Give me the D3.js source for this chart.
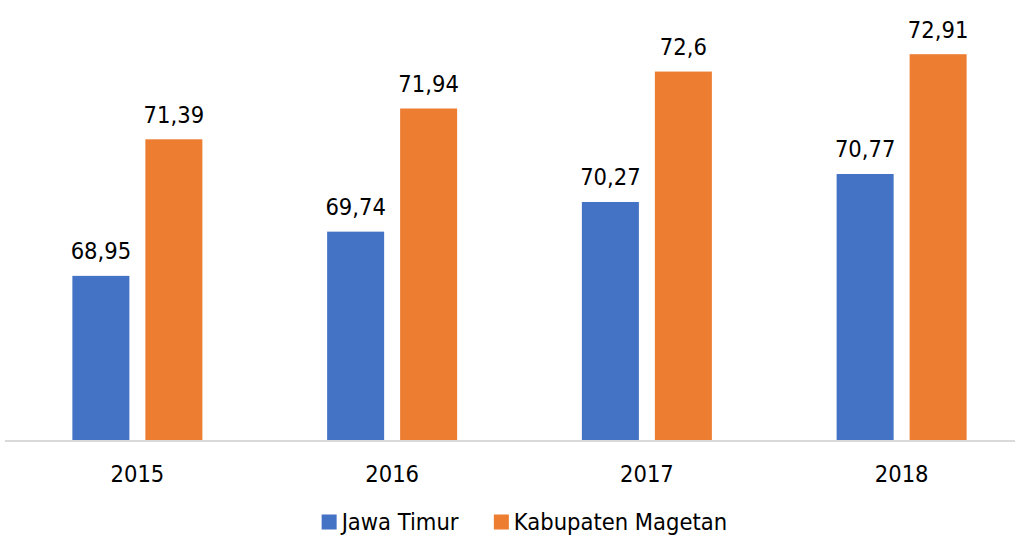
<!DOCTYPE html>
<html>
<head>
<meta charset="utf-8">
<script src="https://cdn.jsdelivr.net/npm/d3@7"></script>
<style>
  html, body { margin: 0; padding: 0; background: #fff; overflow: hidden; }
  svg { display: block; }
  text { font-family: "DejaVu Sans Condensed", "DejaVu Sans", sans-serif; font-stretch: condensed; fill: #000; }
</style>
</head>
<body>
<svg id="chart" width="1015" height="535"></svg>
<script>
const years = ["2015", "2016", "2017", "2018"];
const seriesNames = ["Jawa Timur", "Kabupaten Magetan"];
const jawaTimur = [68.95, 69.74, 70.27, 70.77];
const magetan = [71.39, 71.94, 72.6, 72.91];
const labelsJawaTimur = ["68,95", "69,74", "70,27", "70,77"];
const labelsMagetan = ["71,39", "71,94", "72,6", "72,91"];
const colors = ["#4472C4", "#ED7D31"];

const svg = d3.select("#chart");
const fontSize = 23.5;

const rows = years.map((y, i) => ({
  year: y,
  vals: [
    { key: seriesNames[0], v: jawaTimur[i], label: labelsJawaTimur[i], c: colors[0] },
    { key: seriesNames[1], v: magetan[i], label: labelsMagetan[i], c: colors[1] }
  ]
}));

const x0 = d3.scaleBand().domain(years).range([10, 1029]).padding(0);
const groupW = 130;
const x1 = d3.scaleBand().domain(seriesNames).range([0, groupW]).paddingInner(0.219).paddingOuter(0);
const y = d3.scaleLinear().domain([66, 74]).range([441, -6.8]);

const g = svg.selectAll("g.grp").data(rows).enter().append("g")
  .attr("class", "grp")
  .attr("transform", d => `translate(${x0(d.year) + (x0.bandwidth() - groupW) / 2},0)`);

g.selectAll("rect").data(d => d.vals).enter().append("rect")
  .attr("x", d => x1(d.key))
  .attr("width", x1.bandwidth())
  .attr("y", d => y(d.v))
  .attr("height", d => y(66) - y(d.v))
  .attr("fill", d => d.c);

g.selectAll("text.lbl").data(d => d.vals).enter().append("text")
  .attr("class", "lbl")
  .attr("x", d => x1(d.key) + x1.bandwidth() / 2)
  .attr("y", d => y(d.v) - 16.7)
  .attr("text-anchor", "middle")
  .style("font-size", fontSize + "px")
  .text(d => d.label);

// axis line
svg.append("line")
  .attr("x1", 5).attr("x2", 1015)
  .attr("y1", y(66)).attr("y2", y(66))
  .attr("stroke", "#D9D9D9").attr("stroke-width", 2);

// category labels
const xAxis = d3.axisBottom(x0).tickSize(0).tickPadding(0);
const ax = svg.append("g").call(xAxis);
ax.select(".domain").remove();
ax.selectAll(".tick text")
  .attr("y", 481.7).attr("dy", null)
  .attr("fill", "#000")
  .style("font-size", fontSize + "px")
  .style("font-family", '"DejaVu Sans Condensed", "DejaVu Sans", sans-serif')
  .style("font-stretch", "condensed");

// legend
const legend = svg.append("g");
const items = legend.selectAll("g").data(seriesNames).enter().append("g");
items.append("rect").attr("width", 15).attr("height", 15).attr("y", 514.5)
  .attr("fill", (d, i) => colors[i]);
items.append("text").attr("x", 20).attr("y", 529.5)
  .style("font-size", fontSize + "px")
  .text(d => d);
let widths = [];
items.each(function () { widths.push(this.getBBox().width); });
const gap = 35;
const total = d3.sum(widths) + gap * (widths.length - 1);
let cx = 524.4 - total / 2;
items.attr("transform", (d, i) => {
  const t = `translate(${cx},0)`;
  cx += widths[i] + gap;
  return t;
});
</script>
</body>
</html>
